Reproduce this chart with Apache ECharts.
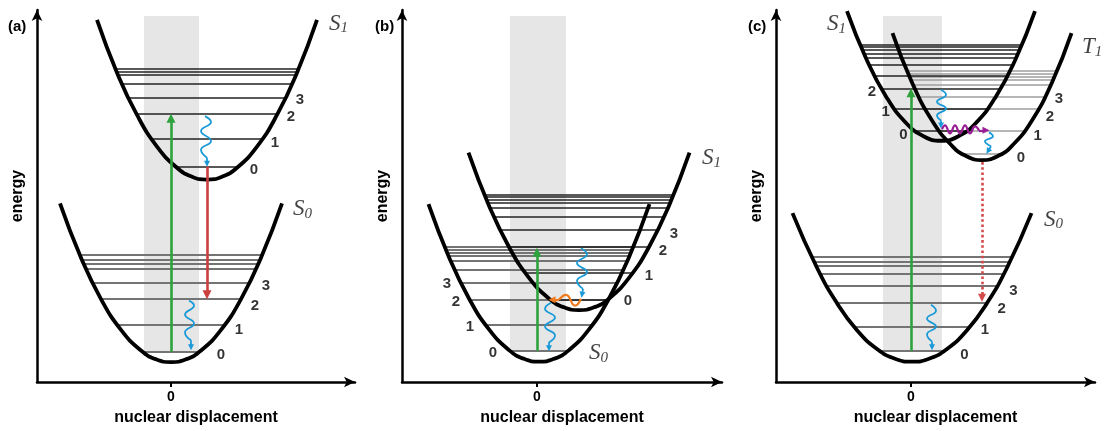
<!DOCTYPE html>
<html><head><meta charset="utf-8">
<script src="https://cdn.jsdelivr.net/npm/echarts@6/dist/echarts.min.js"></script>
<style>html,body{margin:0;padding:0;background:#fff}#c{width:1104px;height:431px}</style>
</head><body><div id="c"></div>
<script>
// ---------- Panel (a) ----------
const aS1Curve = [[-74,365],[-54,311.8],[-34,269.2],[-14,237.3],[6,216],[21,207],[36,204],[51,207],[66,216],[86,237.3],[106,269.2],[126,311.8],[146,365]];
const aS0Curve = [[-111,180],[-90,125.2],[-70,83.6],[-50,52.5],[-30,31.7],[-15,22.9],[0,20],[15,22.9],[30,31.7],[50,52.5],[70,83.6],[90,125.2],[111,180]];
// [energy, left, right]
const aS1Levels = [[217.3,4.4,67.6],[245,-19.5,91.5],[270.7,-34.8,106.8],[286.7,-42.8,114.8],[301,-49.4,121.4],[309.3,-53,125],[312.7,-54.4,126.4],[316,-55.7,127.7]];
const aS0Levels = [[30.5,-28.4,28.4],[58,-54.1,54.1],[83.5,-69.9,69.9],[100.3,-78.6,78.6],[113.7,-84.9,84.9],[119.7,-87.6,87.6],[123.7,-89.4,89.4],[128.7,-91.5,91.5]];
const aBand = [-27, 30.5, 28, 369];
const aGreen = [[0,30.5],[0,266]];
const aRed = [[36,217.3],[36,88]];
const aWaveS1 = [[34,268],[40,262],[30,253],[40,243],[30,234],[36,226],[36,220]];
const aWaveS0 = [[18,82],[23,77],[14,68],[23,59],[14,50],[20,42],[20,35]];
const aDigits = [['0',83,214],['1',104,241],['2',120,267],['3',129,284],['0',50,27],['1',68,53],['2',84,77],['3',95,97]];
const aNames = [['S','1',158,361],['S','0',122,174]];

// ---------- Panel (b) ----------
const bS0Curve = [[-108.5,179.5],[-88,126],[-68,84.3],[-48,53.1],[-28,32.2],[-13,23.4],[2,20.5],[17,23.4],[32,32.2],[52,53.1],[72,84.3],[92,126],[112.5,179.5]];
const bS1Curve = [[-68.5,231.5],[-48,178],[-28,136.3],[-8,105.1],[12,84.2],[27,75.4],[42,72.5],[57,75.4],[72,84.2],[92,105.1],[112,136.3],[132,178],[152.5,231.5]];
const bS0Levels = [[31.2,-26.7,30.7],[57.8,-51.5,55.5],[82.8,-67.2,71.2],[100.5,-76.4,80.4],[113.8,-82.6,86.6],[122.2,-86.4,90.4],[127.2,-88.5,92.5],[130.5,-89.9,93.9],[133.5,-91.2,95.2],[136.2,-92.3,96.3]];
const bS1Levels = [[83.3,12.5,71.5],[110.5,-12,96],[136.5,-28.1,112.1],[153.8,-37,121],[167.2,-43.3,127.3],[175.5,-46.9,130.9],[181.2,-49.4,133.4],[183.8,-50.5,134.5],[186.5,-51.6,135.6],[188.8,-52.5,136.5]];
const bBand = [-27, 31.2, 29, 369.5];
const bGreen = [[0,31.2],[0,131]];
const bWaveS1 = [[44,135],[50,129],[40,120],[50,111],[40,102],[46,94],[45,88]];
const bWaveS0 = [[14,80],[8,74],[18,65],[8,56],[18,47],[12,40],[12,34]];
const bWaveIC = [[44,84],[38,77],[29,88],[22,83],[15,83]];
const bDigits = [['0',-44,29.5],['1',-67,55.5],['2',-81,80.5],['3',-90,99.5],['0',91,81.5],['1',112,107.5],['2',126,132.5],['3',137,149.5]];
const bNames = [['S','1',165,226],['S','0',52,29]];

// ---------- Panel (c) ----------
const cS0Curve = [[-118.5,170.5],[-94,115.3],[-74,79.6],[-54,52.3],[-34,33.4],[-16,23.5],[1,20.5],[18,23.5],[36,33.4],[56,52.3],[76,79.6],[96,115.3],[120.5,170.5]];
const cS1Curve = [[-64,374.3],[-45,326.8],[-25,288.3],[-5,261.6],[13,247.8],[30,243.5],[47,247.8],[65,261.6],[85,288.3],[105,326.8],[124,374.3]];
const cT1Curve = [[-18.5,352.2],[1,302.4],[21,264],[41,238.4],[56,227.6],[71,224],[86,227.6],[101,238.4],[121,264],[141,302.4],[160.5,352.2]];
const cS0Levels = [[31.2,-30.9,32.9],[56.2,-57.3,59.3],[80.5,-74.6,76.6],[97.2,-84.5,86.5],[108.8,-90.7,92.7],[117.2,-95,97],[121.2,-96.9,98.9],[126.5,-99.5,101.5]];
const cS1Levels = [[253.8,3.6,56.4],[276,-16.9,76.9],[296,-29.6,89.6],[309.5,-36.8,96.8],[320.5,-42.1,102.1],[327.2,-45.2,105.2],[331.5,-47.1,107.1],[335,-48.6,108.6],[338,-49.9,109.9],[340.5,-51,111]];
const cT1Levels = [[230.5,50.8,91.2],[253.8,27.8,114.2],[276,14,128],[288.2,7.7,134.3],[300.5,1.9,140.1],[305,-0.1,142.1],[308.5,-1.7,143.7],[311.5,-3,145],[313.8,-3.9,145.9]];
const cBand = [-28, 31.2, 31, 369.5];
const cGreen = [[0,31.2],[0,292]];
const cRed = [[71,222],[71,85]];
const cWaveS1 = [[30,295],[35,290],[26,283],[35,276],[26,269],[30,264],[30,259]];
const cWaveISC = [[31,255],[34,259],[39,251],[44,259],[49,251],[54,259],[59,251],[64,258],[68,254],[75,254]];
const cWaveT1 = [[78,252],[82,248],[74,243],[80,238],[77,233]];
const cWaveS0 = [[20,78],[25,72],[16,64],[25,56],[16,48],[21,41],[21,35]];
const cDigits = [['2',-39,292.8],['1',-25.3,272.2],['0',-7.7,249.5],['0',110,226.2],['1',126.7,248.8],['2',139,267.2],['3',148,286.2],['0',53.3,27.2],['1',74,52.2],['2',90.7,73.8],['3',102.3,92.2]];
const cNames = [['S','1',-84,361],['T','1',171,338],['S','0',133,164]];

// ---------- layout ----------
const FONT = '"Liberation Sans", Arial, sans-serif';
const SERIF = '"Liberation Serif", "Times New Roman", serif';
const grids = [
  {left:37, right:749, top:10, bottom:46},
  {left:402, right:382, top:10, bottom:45.5},
  {left:776, right:9, top:10, bottom:45.5}
];
const xRanges = [[-134,184],[-135,185],[-135,184]];
const yRanges = [[0,375],[0,375.5],[0,375.5]];

const series = [];
function add(idx, s){ s.xAxisIndex = idx; s.yAxisIndex = idx; s.animation = false; s.silent = true; series.push(s); }
function band(idx, b){
  add(idx, {type:'custom', z:1, data:[b], encode:{x:[0,2], y:[1,3]}, renderItem:(p, api)=>{
    const a = api.coord([api.value(0), api.value(3)]);
    const c = api.coord([api.value(2), api.value(1)]);
    return {type:'rect', shape:{x:a[0], y:a[1], width:c[0]-a[0], height:c[1]-a[1]}, style:{fill:'#e6e6e6'}};
  }});
}
function levels(idx, lv, color, width){
  add(idx, {type:'lines', coordinateSystem:'cartesian2d', z:2, symbol:'none',
    lineStyle:{color:color, width:width, opacity:1},
    data: lv.map(l=>({coords:[[l[1],l[0]],[l[2],l[0]]]}))});
}
function curve(idx, pts){
  add(idx, {type:'line', z:3, smooth:0.5, symbol:'none', lineStyle:{color:'#000', width:3.8}, data:pts});
}
function arrow(idx, pts, color, width, head, type){
  add(idx, {type:'lines', coordinateSystem:'cartesian2d', z:4, symbol:['none','triangle'], symbolSize:head,
    lineStyle:{color:color, width:width, type:type||'solid', opacity:1}, data:[{coords:pts}]});
}
function wave(idx, pts, color, width, head){
  add(idx, {type:'line', z:4, smooth:0.5, symbol:'none', lineStyle:{color:color, width:width}, data:pts.slice(0,-1)});
  arrow(idx, pts.slice(-2), color, width, head);
}
function digits(idx, arr){
  add(idx, {type:'scatter', z:5, symbolSize:1, itemStyle:{color:'rgba(0,0,0,0)'},
    label:{show:true, position:'inside', formatter:'{b}', fontSize:15, fontWeight:'bold', color:'#000', fontFamily:FONT},
    data: arr.map(d=>({name:d[0], value:[d[1], d[2]]}))});
}
function names(idx, arr){
  add(idx, {type:'scatter', z:5, symbolSize:1, itemStyle:{color:'rgba(0,0,0,0)'},
    label:{show:true, position:'inside', align:'left', verticalAlign:'middle',
      formatter:p=>'{s|'+p.data.s+'}{sub|'+p.data.sub+'}',
      rich:{
        s:{fontFamily:SERIF, fontStyle:'italic', fontSize:23, color:'#111', lineHeight:24},
        sub:{fontFamily:SERIF, fontStyle:'italic', fontSize:15, color:'#111', lineHeight:11, verticalAlign:'bottom'}
      }},
    data: arr.map(d=>({name:d[0]+d[1], s:d[0], sub:d[1], value:[d[2], d[3]]}))});
}

const LV_DARK = '#222222', LV_GRAY = '#747474', LV_LIGHT = '#9e9e9e';
const GREEN = '#2ea23c', RED = '#c9403d', BLUE = '#1a9ad8', ORANGE = '#f07a1e', PURPLE = '#9a1f96', RED2 = '#d34a4a';

// panel a
band(0, aBand);
levels(0, aS1Levels, LV_DARK, 1.6);
levels(0, aS0Levels, LV_GRAY, 1.8);
curve(0, aS1Curve); curve(0, aS0Curve);
arrow(0, aGreen, GREEN, 2.6, 9);
arrow(0, aRed, RED, 2.6, 9);
wave(0, aWaveS1, BLUE, 1.8, 6);
wave(0, aWaveS0, BLUE, 1.8, 6);
digits(0, aDigits); names(0, aNames);
// panel b
band(1, bBand);
levels(1, bS0Levels, LV_GRAY, 1.8);
levels(1, bS1Levels, LV_DARK, 1.6);
curve(1, bS0Curve); curve(1, bS1Curve);
arrow(1, bGreen, GREEN, 2.6, 9);
wave(1, bWaveS1, BLUE, 1.8, 6);
wave(1, bWaveS0, BLUE, 1.8, 6);
wave(1, bWaveIC, ORANGE, 2.2, 7);
digits(1, bDigits); names(1, bNames);
// panel c
band(2, cBand);
levels(2, cS0Levels, LV_GRAY, 1.8);
levels(2, cT1Levels, LV_LIGHT, 1.6);
levels(2, cS1Levels, LV_DARK, 1.6);
curve(2, cS0Curve); curve(2, cS1Curve); curve(2, cT1Curve);
arrow(2, cGreen, GREEN, 2.6, 9);
arrow(2, cRed, RED2, 2.6, 8, 'dotted');
wave(2, cWaveS1, BLUE, 1.8, 6);
wave(2, cWaveISC, PURPLE, 2.2, 7);
wave(2, cWaveT1, BLUE, 1.8, 6);
wave(2, cWaveS0, BLUE, 1.8, 6);
digits(2, cDigits); names(2, cNames);

const xAxis = grids.map((g,i)=>({
  gridIndex:i, type:'value', min:xRanges[i][0], max:xRanges[i][1],
  name:'nuclear displacement', nameLocation:'middle', nameGap:28,
  nameTextStyle:{fontSize:16, fontWeight:'bold', color:'#000', fontFamily:FONT},
  axisLine:{show:true, onZero:false, lineStyle:{color:'#000', width:2.5}, symbol:['none','arrow'], symbolSize:[8,11]},
  axisTick:{show:true, customValues:[0], length:5, lineStyle:{color:'#000', width:2}},
  axisLabel:{show:true, customValues:[0], margin:8, fontSize:14, fontWeight:'bold', color:'#000', fontFamily:FONT},
  splitLine:{show:false}
}));
const yAxis = grids.map((g,i)=>({
  gridIndex:i, type:'value', min:yRanges[i][0], max:yRanges[i][1],
  name:'energy', nameLocation:'middle', nameGap:11, nameRotate:90,
  nameTextStyle:{fontSize:16, fontWeight:'bold', color:'#000', fontFamily:FONT},
  axisLine:{show:true, onZero:false, lineStyle:{color:'#000', width:2.5}, symbol:['none','arrow'], symbolSize:[8,11]},
  axisTick:{show:false}, axisLabel:{show:false}, splitLine:{show:false}
}));

const chart = echarts.init(document.getElementById('c'));
chart.setOption({
  animation:false,
  textStyle:{fontFamily:FONT},
  grid: grids,
  xAxis: xAxis,
  yAxis: yAxis,
  series: series,
  graphic:[
    {type:'text', left:8, top:19, style:{text:'(a)', font:'bold 15px "Liberation Sans"', fill:'#000'}},
    {type:'text', left:375, top:19, style:{text:'(b)', font:'bold 15px "Liberation Sans"', fill:'#000'}},
    {type:'text', left:748, top:19, style:{text:'(c)', font:'bold 15px "Liberation Sans"', fill:'#000'}}
  ]
});
</script></body></html>
